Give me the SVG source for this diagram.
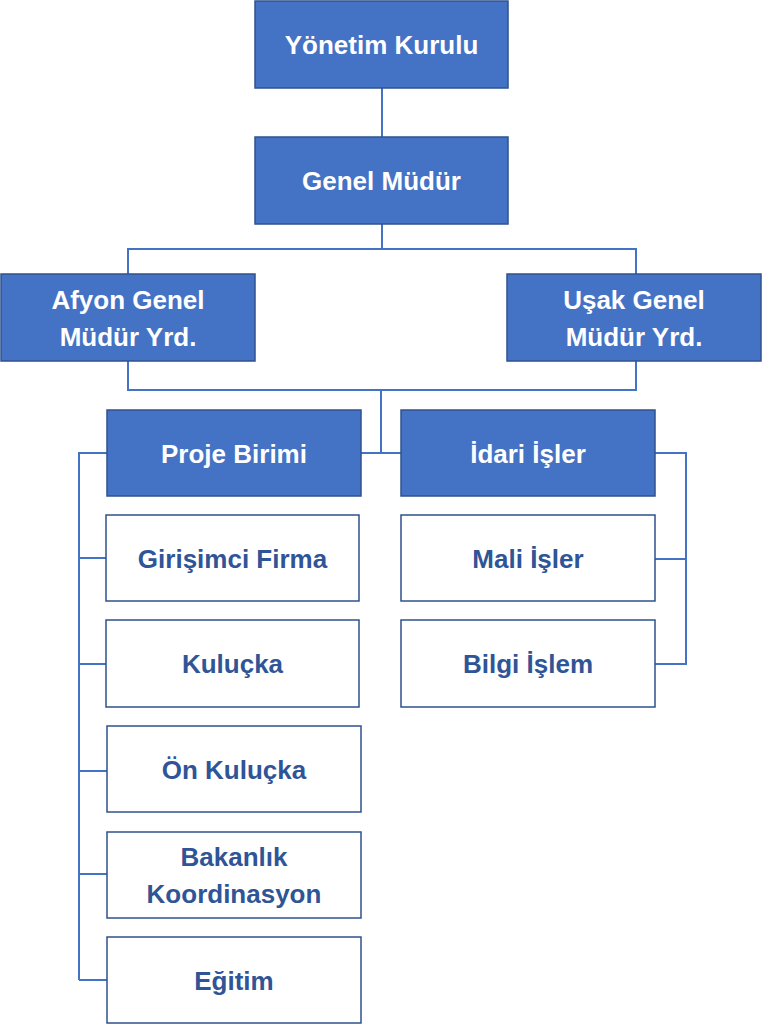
<svg xmlns="http://www.w3.org/2000/svg" width="762" height="1024" viewBox="0 0 762 1024">
<style>
.b{fill:#4472C4;stroke:#2F528F;stroke-width:1.5}
.w{fill:#FFFFFF;stroke:#2F528F;stroke-width:1.5}
.tb{font-family:"Liberation Sans",Arial,sans-serif;font-weight:bold;font-size:26px;fill:#FFFFFF;text-anchor:middle}
.tw{font-family:"Liberation Sans",Arial,sans-serif;font-weight:bold;font-size:26px;fill:#2F5597;text-anchor:middle}
.c{fill:none;stroke:#4472C4;stroke-width:2}
</style>
<rect width="762" height="1024" fill="#FFFFFF"/>
<g id="connectors">
<path class="c" d="M382 88V138"/>
<path class="c" d="M382 224V249M128 274V249H636V274"/>
<path class="c" d="M128 361V390H636V361M381 390V453M361 453H401"/>
<path class="c" d="M107 453H79V980M79 558H107M79 664H107M79 771H107M79 874H107M79 980H107"/>
<path class="c" d="M655 453H686V664H655M655 559H686"/>
</g>
<g id="yonetim"><rect class="b" x="255" y="1" width="253" height="87"/><text class="tb" x="381.5" y="54">Yönetim Kurulu</text></g>
<g id="genel"><rect class="b" x="255" y="137" width="253" height="87"/><text class="tb" x="381.5" y="190">Genel Müdür</text></g>
<g id="afyon"><rect class="b" x="1" y="274" width="254" height="87"/><text class="tb" x="128" y="309">Afyon Genel</text><text class="tb" x="128" y="346">Müdür Yrd.</text></g>
<g id="usak"><rect class="b" x="507" y="274" width="254" height="87"/><text class="tb" x="634" y="309">Uşak Genel</text><text class="tb" x="634" y="346">Müdür Yrd.</text></g>
<g id="proje"><rect class="b" x="107" y="410" width="254" height="86"/><text class="tb" x="234" y="463">Proje Birimi</text></g>
<g id="idari"><rect class="b" x="401" y="410" width="254" height="86"/><text class="tb" x="528" y="463">İdari İşler</text></g>
<g id="girisimci"><rect class="w" x="106" y="515" width="253" height="86"/><text class="tw" x="232.5" y="568">Girişimci Firma</text></g>
<g id="kulucka"><rect class="w" x="106" y="620" width="253" height="87"/><text class="tw" x="232.5" y="673">Kuluçka</text></g>
<g id="onkulucka"><rect class="w" x="107" y="726" width="254" height="86"/><text class="tw" x="234" y="779">Ön Kuluçka</text></g>
<g id="bakanlik"><rect class="w" x="107" y="832" width="254" height="86"/><text class="tw" x="234" y="866">Bakanlık</text><text class="tw" x="234" y="903">Koordinasyon</text></g>
<g id="egitim"><rect class="w" x="107" y="937" width="254" height="86"/><text class="tw" x="234" y="990">Eğitim</text></g>
<g id="mali"><rect class="w" x="401" y="515" width="254" height="86"/><text class="tw" x="528" y="568">Mali İşler</text></g>
<g id="bilgi"><rect class="w" x="401" y="620" width="254" height="87"/><text class="tw" x="528" y="673">Bilgi İşlem</text></g>
</svg>
